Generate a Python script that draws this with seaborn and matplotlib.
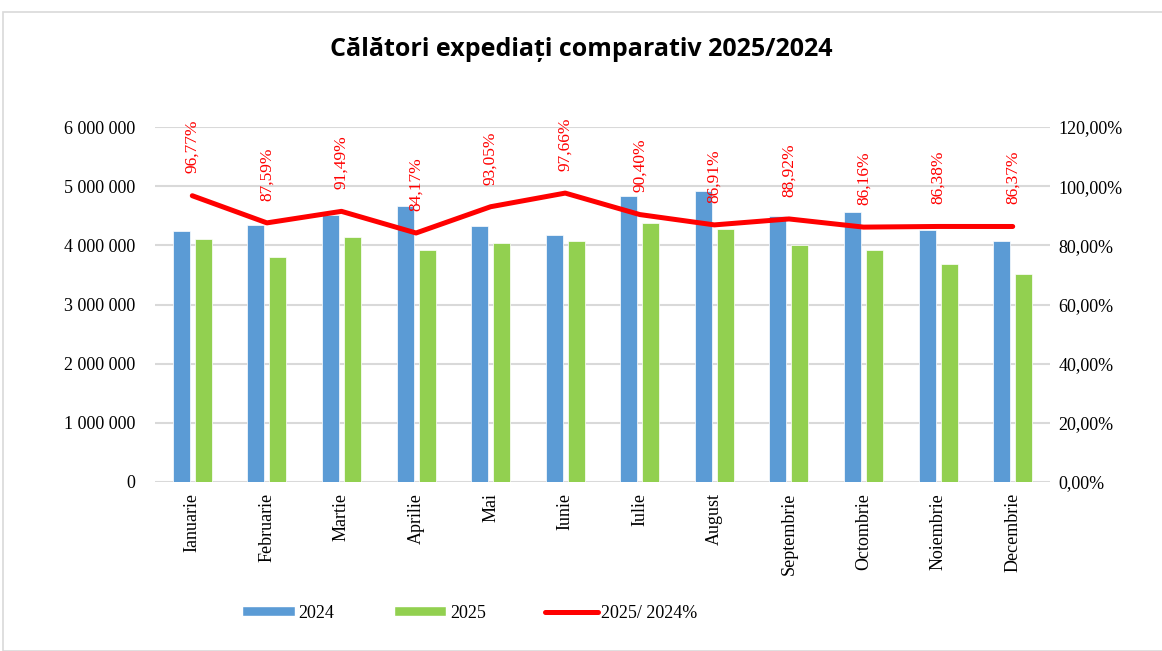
import numpy as np
import pandas as pd
import matplotlib
matplotlib.use("Agg")
import matplotlib.pyplot as plt
from matplotlib.ticker import FuncFormatter
from matplotlib.patches import Rectangle
from matplotlib.lines import Line2D
from matplotlib.patches import Patch
import seaborn as sns

# =========================
# Data
# =========================
months = ["Ianuarie", "Februarie", "Martie", "Aprilie", "Mai", "Iunie",
          "Iulie", "August", "Septembrie", "Octombrie", "Noiembrie", "Decembrie"]
calatori_2024 = [4247000, 4345000, 4518000, 4668000, 4335000, 4174000,
                 4838000, 4912000, 4503000, 4557000, 4264000, 4075000]
calatori_2025 = [4110000, 3806000, 4133000, 3929000, 4034000, 4076000,
                 4373000, 4269000, 4004000, 3926000, 3683000, 3520000]
raport_pct = [96.77, 87.59, 91.49, 84.17, 93.05, 97.66,
              90.40, 86.91, 88.92, 86.16, 86.38, 86.37]

blue = "#5B9BD5"
green = "#92D050"
red = "#FF0000"

df = pd.DataFrame({
    "luna": months * 2,
    "an": ["2024"] * 12 + ["2025"] * 12,
    "calatori": calatori_2024 + calatori_2025,
})

sns.set_style("white")
plt.rcParams["font.family"] = ["Liberation Serif", "DejaVu Serif"]
plt.rcParams["text.color"] = "black"
plt.rcParams["xtick.color"] = "black"
plt.rcParams["ytick.color"] = "black"

fig = plt.figure(figsize=(11.62, 6.51), dpi=100)
ax = fig.add_axes([155 / 1162, 1 - 482 / 651, 895 / 1162, 355 / 651])

sns.barplot(data=df, x="luna", y="calatori", hue="an", order=months,
            palette=[blue, green], saturation=1, width=0.59, gap=0.23, ax=ax,
            legend=False, edgecolor="white", linewidth=0.5)

ax.set_ylim(0, 6000000)
ax.set_xlim(-0.5, 11.5)
ax.set_yticks(np.arange(0, 6000001, 1000000))
ax.yaxis.set_major_formatter(FuncFormatter(lambda v, p: f"{int(v):,}".replace(",", " ")))
ax.grid(axis="y", color="#D9D9D9", linewidth=1.5)
ax.set_axisbelow(True)
for s in ax.spines.values():
    s.set_visible(False)
ax.tick_params(axis="both", length=0, labelsize=13)
ax.tick_params(axis="y", pad=14)
ax.tick_params(axis="x", pad=8)
ax.set_xlabel("")
ax.set_ylabel("")
plt.setp(ax.get_xticklabels(), rotation=90, va="top", ha="center")

# secondary axis for the ratio
ax2 = ax.twinx()
sns.lineplot(x=np.arange(12), y=raport_pct, ax=ax2, color=red,
             linewidth=3.6, solid_capstyle="round")
ax2.set_ylim(0, 120)
ax2.set_yticks(np.arange(0, 121, 20))
ax2.yaxis.set_major_formatter(FuncFormatter(lambda v, p: f"{v:.2f}%".replace(".", ",")))
for s in ax2.spines.values():
    s.set_visible(False)
ax2.tick_params(axis="y", length=0, labelsize=13, pad=6)
ax2.set_ylabel("")

for i, v in enumerate(raport_pct):
    ax2.annotate(f"{v:.2f}%".replace(".", ","), (i, v), xytext=(0, 16),
                 textcoords="offset points", rotation=90, ha="center",
                 va="bottom", color=red, fontsize=12.5)

# title
fig.text(0.5, 1 - 50 / 651, "Călători expediați comparativ 2025/2024",
         ha="center", va="center", fontsize=18, fontweight="bold",
         color="black", family=["Open Sans", "DejaVu Sans"])

# legend
handles = [Patch(facecolor=blue), Patch(facecolor=green),
           Line2D([0], [0], color=red, linewidth=3.6, solid_capstyle="round")]
fig.legend(handles, ["2024", "2025", "2025/ 2024%"], loc="center",
           bbox_to_anchor=(470 / 1162, 1 - 613 / 651), ncol=3, frameon=False,
           fontsize=13, handlelength=2.9, handleheight=0.5, columnspacing=3.3,
           handletextpad=0.2)

# outer chart border
fig.patches.append(Rectangle((3 / 1162, 0.0), 1.2, 1 - 12 / 651,
                             transform=fig.transFigure, fill=False,
                             edgecolor="#D9D9D9", linewidth=1.2))

fig.savefig("out.png", dpi=100)
